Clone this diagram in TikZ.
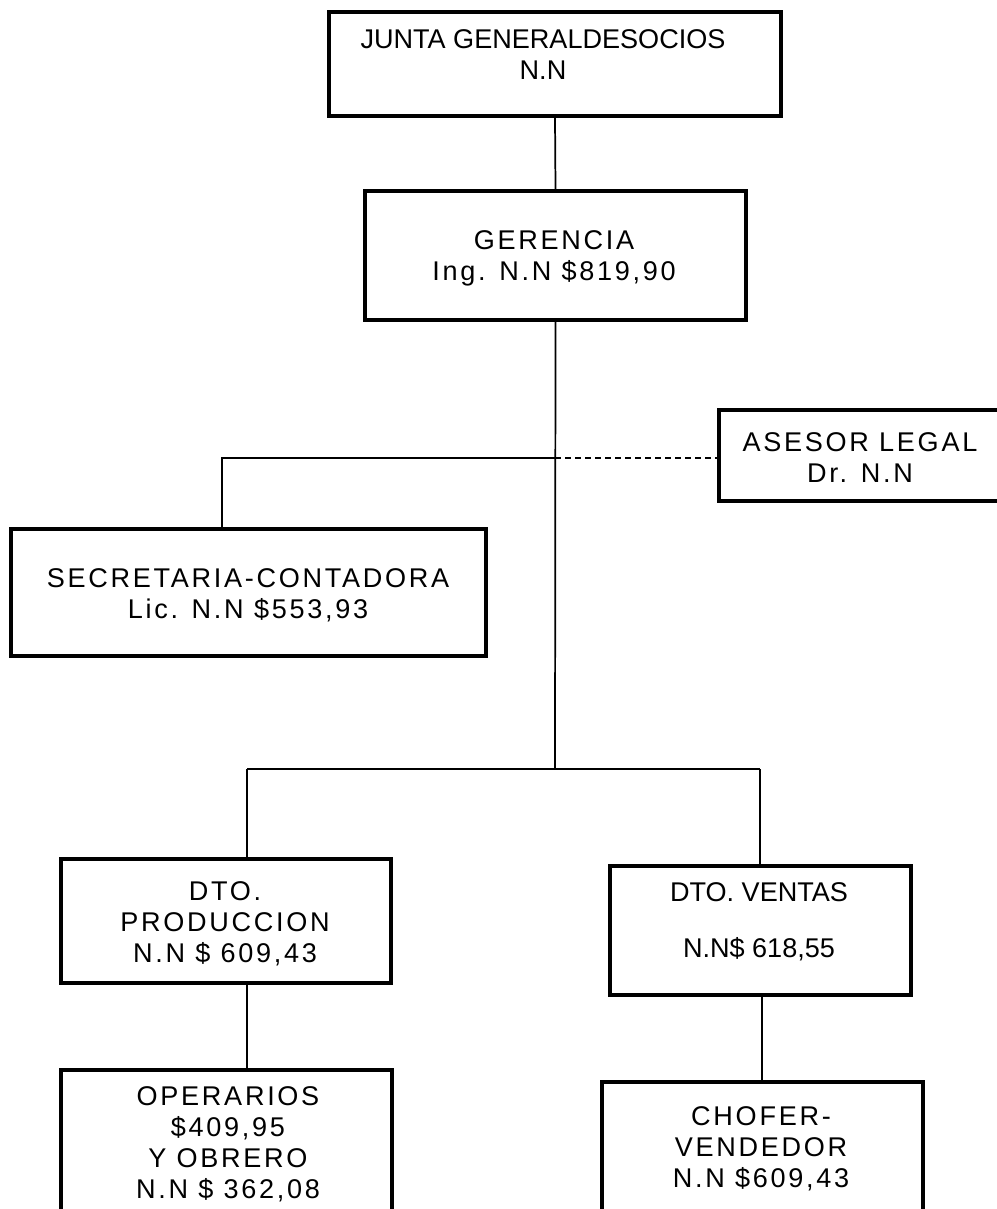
\documentclass[tikz,border=0pt]{standalone}
\usepackage{fontspec}
\setmainfont{Liberation Sans}
\newfontfamily\spaced[LetterSpace=10]{Liberation Sans}
\tikzset{
  x=0.75pt, y=-0.75pt,
  orgbox/.style={draw, line width=3.3pt, rectangle, inner sep=0pt},
  orgtext/.style={align=center, inner sep=0pt, font=\fontsize{20.3pt}{23.25pt}\selectfont},
  wide/.style={orgtext, font=\fontsize{20.3pt}{23.25pt}\selectfont\spaced},
  link/.style={line width=1.3pt},
  advice/.style={line width=1.3pt, dash pattern=on 4.5pt off 3pt}
}
\begin{document}
\begin{tikzpicture}
\useasboundingbox (0,0) rectangle (996,1209);

% boxes
\node[orgbox, minimum width=452*0.75pt, minimum height=104*0.75pt] (junta) at (555,64) {};
\node[orgbox, minimum width=381*0.75pt, minimum height=129*0.75pt] (gerencia) at (555.5,255.5) {};
\node[orgbox, minimum width=282*0.75pt, minimum height=91*0.75pt] (asesor) at (860,455.5) {};
\node[orgbox, minimum width=475*0.75pt, minimum height=127*0.75pt] (secretaria) at (248.5,592.5) {};
\node[orgbox, minimum width=330*0.75pt, minimum height=124*0.75pt] (produccion) at (226,921) {};
\node[orgbox, minimum width=301*0.75pt, minimum height=129*0.75pt] (ventas) at (760.5,930.5) {};
\node[orgbox, minimum width=331*0.75pt, minimum height=160*0.75pt] (operarios) at (226.5,1150) {};
\node[orgbox, minimum width=321*0.75pt, minimum height=158*0.75pt] (chofer) at (762.5,1161) {};

% texts
\node[orgtext] (junta-t) at (543,55) {JUNTA GENERALDESOCIOS\\N.N};
\node[wide] (gerencia-t) at (554,258) {GERENCIA\\Ing. N.N \$819,90};
\node[wide] (asesor-t) at (860,458) {ASESOR LEGAL\\Dr. N.N};
\node[wide] (secretaria-t) at (248,595) {SECRETARIA-CONTADORA\\Lic. N.N \$553,93};
\node[wide] (produccion-t) at (225,924) {DTO.\\PRODUCCION\\N.N \$ 609,43};
\node[orgtext] (ventas-t) at (759,922) {DTO. VENTAS\\[18.75pt]N.N\$ 618,55};
\node[wide] (operarios-t) at (228,1144) {OPERARIOS\\\$409,95\\Y OBRERO\\N.N \$ 362,08};
\node[wide] (chofer-t) at (761,1149) {CHOFER-\\VENDEDOR\\N.N \$609,43};

% junctions
\coordinate (hub1) at (555,458);
\coordinate (hub2) at (555,769);
\coordinate (secj) at (222,458);
\coordinate (prodj) at (247,769);
\coordinate (ventj) at (760,769);

% connectors
\draw[link] (junta.south) -- (gerencia.north);
\draw[link] (gerencia.south) -- (hub2);
\draw[link] (hub1) -- (secj) -- (secj |- secretaria.north);
\draw[advice] (hub1) -- (asesor.west |- hub1);
\draw[link] (prodj) -- (ventj);
\draw[link] (prodj) -- (prodj |- produccion.north);
\draw[link] (ventj) -- (ventj |- ventas.north);
\draw[link] (prodj |- produccion.south) -- (prodj |- operarios.north);
\draw[link] (ventas.south -| 762,0) -- (chofer.north -| 762,0);
\end{tikzpicture}
\end{document}
